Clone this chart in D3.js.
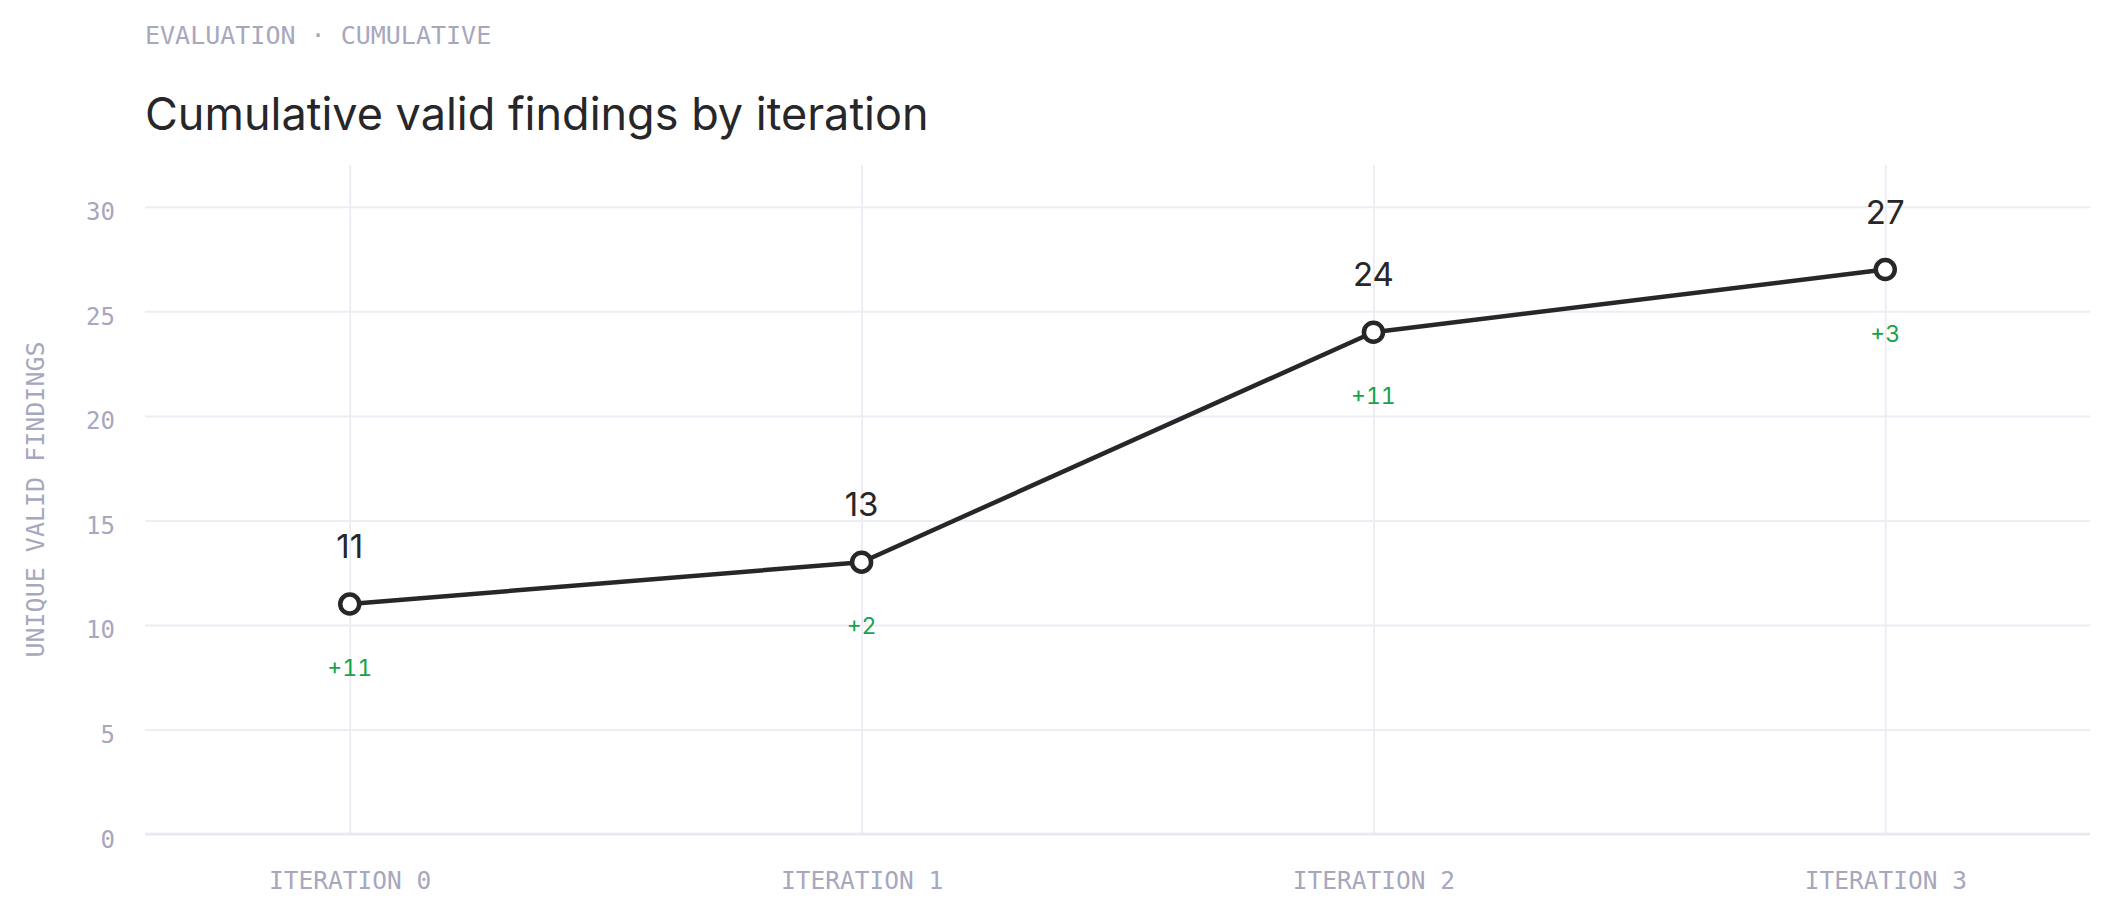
<!DOCTYPE html>
<html>
<head>
<meta charset="utf-8">
<script src="https://cdn.jsdelivr.net/npm/d3@7"></script>
<style>
  html, body { margin: 0; padding: 0; background: #ffffff; }
  svg { display: block; }
  .tnum { font-variant-numeric: tabular-nums; font-feature-settings: "tnum" 1; }
</style>
</head>
<body>
<svg id="chart" width="2106" height="914"></svg>
<script>
// ---- data ----
const categories = ["ITERATION 0", "ITERATION 1", "ITERATION 2", "ITERATION 3"];
const cumulativeFindings = [11, 13, 24, 27];
const newFindings = ["+11", "+2", "+11", "+3"];
const yTickValues = [0, 5, 10, 15, 20, 25, 30];
const eyebrow = "EVALUATION · CUMULATIVE";
const title = "Cumulative valid findings by iteration";
const yAxisTitle = "UNIQUE VALID FINDINGS";

// ---- layout ----
const W = 2106, H = 914;
const margin = { top: 165, right: 16, bottom: 80, left: 145 };
const mono = "'DejaVu Sans Mono', 'Liberation Mono', monospace";
const sans = "Inter, 'Noto Sans', sans-serif";
const muted = "#a7a7be";
const grid = "#ededf5";
const ink = "#27272a";
const green = "#16a34a";

const svg = d3.select("#chart");

const x = d3.scalePoint().domain(categories).range([margin.left, W - margin.right]).padding(0.4);
const y = d3.scaleLinear().domain([0, 32]).range([H - margin.bottom, margin.top]);

// header
svg.append("text").attr("x", 145).attr("y", 44)
  .attr("font-family", mono).attr("font-size", 25).attr("fill", muted)
  .text(eyebrow);
svg.append("text").attr("x", 145).attr("y", 130)
  .attr("font-family", sans).attr("font-size", 45).attr("fill", ink)
  .text(title);

// y grid + labels
const yAxis = d3.axisLeft(y).tickValues(yTickValues)
  .tickSize(-(W - margin.left - margin.right)).tickPadding(30);
const gy = svg.append("g").attr("transform", `translate(${margin.left},0)`).call(yAxis);
gy.select(".domain").remove();
gy.selectAll(".tick line").attr("stroke", grid).attr("stroke-width", 2);
gy.selectAll(".tick text").attr("font-family", mono).attr("font-size", 24)
  .attr("fill", muted).attr("dy", 13).attr("x", -30);

// x grid + labels
const xAxis = d3.axisBottom(x).tickSize(-(H - margin.bottom - margin.top)).tickPadding(0);
const gx = svg.append("g").attr("transform", `translate(0,${H - margin.bottom})`).call(xAxis);
gx.select(".domain").remove();
gx.selectAll(".tick line").attr("stroke", grid).attr("stroke-width", 2);
gx.selectAll(".tick text").attr("font-family", mono).attr("font-size", 24.5)
  .attr("fill", muted).attr("y", 55).attr("dy", 0);

// baseline
svg.append("line")
  .attr("x1", margin.left).attr("x2", W - margin.right)
  .attr("y1", y(0)).attr("y2", y(0))
  .attr("stroke", "#e8e8f2").attr("stroke-width", 2.5);

// y axis title
svg.append("text")
  .attr("transform", `translate(44,${(y(0) + margin.top) / 2}) rotate(-90)`)
  .attr("text-anchor", "middle")
  .attr("font-family", mono).attr("font-size", 25).attr("fill", muted)
  .text(yAxisTitle);

const pts = categories.map((c, i) => ({ c, v: cumulativeFindings[i], d: newFindings[i] }));

// line
svg.append("path").datum(pts)
  .attr("fill", "none").attr("stroke", ink).attr("stroke-width", 4.5)
  .attr("stroke-linejoin", "round")
  .attr("d", d3.line().x(d => x(d.c)).y(d => y(d.v)));

// points
svg.selectAll("circle.pt").data(pts).join("circle")
  .attr("class", "pt")
  .attr("cx", d => x(d.c)).attr("cy", d => y(d.v)).attr("r", 9.5)
  .attr("fill", "#ffffff").attr("stroke", ink).attr("stroke-width", 4.5);

// value labels
svg.selectAll("text.val").data(pts).join("text")
  .attr("class", "val")
  .attr("x", d => x(d.c)).attr("y", d => y(d.v) - 46)
  .attr("text-anchor", "middle")
  .attr("font-family", sans).attr("font-size", 33).attr("fill", ink)
  .text(d => d.v);

// delta labels
svg.selectAll("text.delta").data(pts).join("text")
  .attr("class", "delta tnum")
  .attr("x", d => x(d.c)).attr("y", d => y(d.v) + 72)
  .attr("text-anchor", "middle")
  .attr("font-family", sans).attr("font-size", 23).attr("fill", green)
  .text(d => d.d);
</script>
</body>
</html>
